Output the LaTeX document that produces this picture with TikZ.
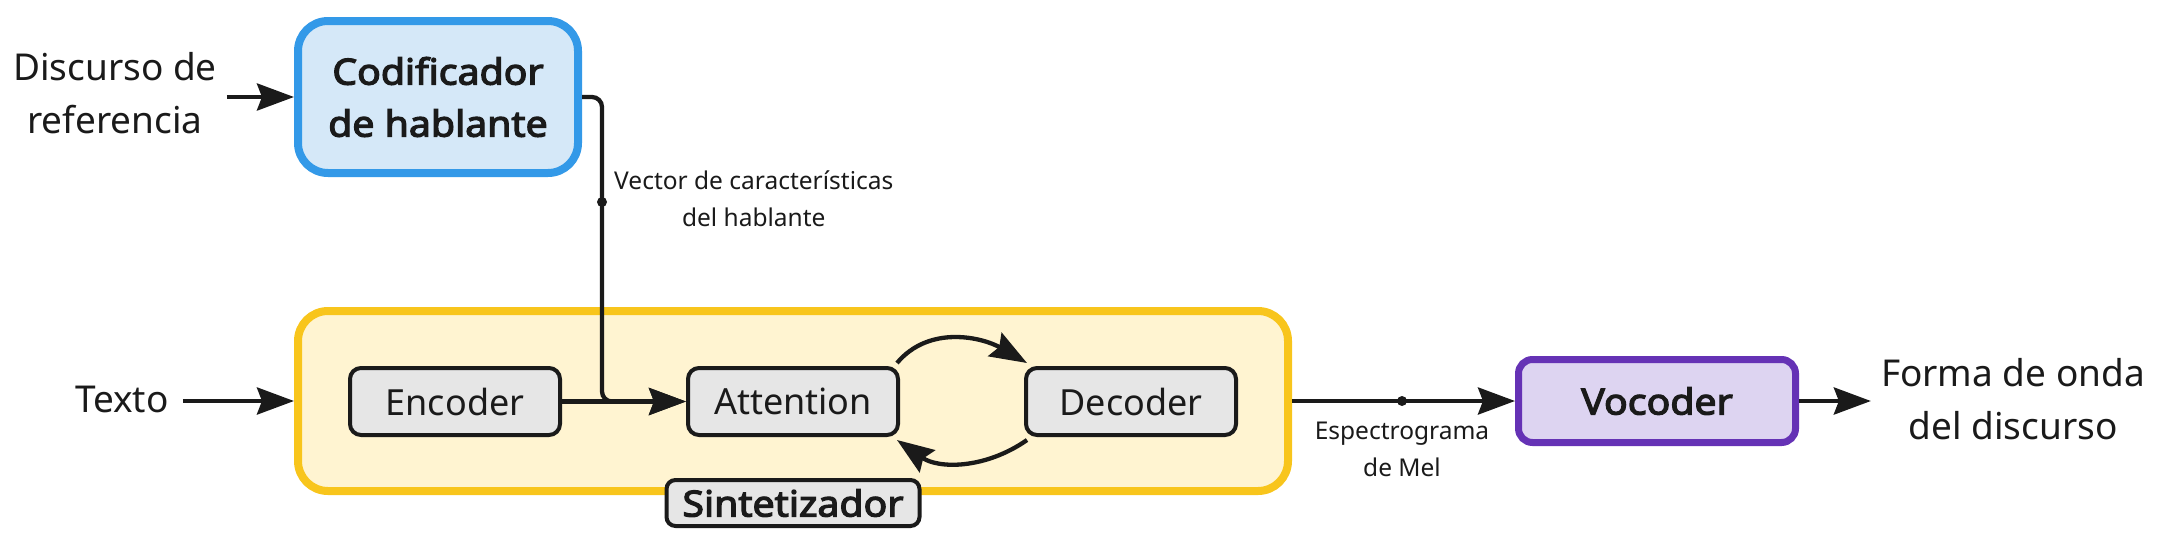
\documentclass[tikz,border=0pt]{standalone}
\usepackage{fontspec}
\setmainfont{Noto Sans}[BoldFont={Noto Sans},BoldFeatures={FakeBold=3.4,FakeStretch=1.09}]
\usetikzlibrary{arrows.meta}
\definecolor{txt}{HTML}{1A1A1A}
\definecolor{blueB}{HTML}{3399E8}
\definecolor{blueF}{HTML}{D5E8F8}
\definecolor{yelB}{HTML}{F8C51C}
\definecolor{yelF}{HTML}{FFF4D1}
\definecolor{grayF}{HTML}{E6E6E6}
\definecolor{purB}{HTML}{6532B5}
\definecolor{purF}{HTML}{DDD4F1}
\tikzset{
  bigtext/.style={font=\fontsize{37}{53}\selectfont, text=txt, align=center, inner sep=0pt},
  smalltext/.style={font=\fontsize{24.5}{37}\selectfont, text=txt, align=center, inner sep=0pt},
  inner/.style={draw=txt, fill=grayF, line width=4pt, rounded corners=11pt, minimum width=210pt, minimum height=67pt, inner sep=0pt, font=\fontsize{36}{44}\selectfont, text=txt},
  conn/.style={draw=txt, line width=4.3pt},
  arr/.style={conn, -{Stealth[length=37pt,width=27pt,inset=5pt]}},
  dot/.style={circle, fill=txt, inner sep=0pt, minimum size=10pt}
}
\begin{document}
\begin{tikzpicture}[x=1pt,y=-1pt]
\useasboundingbox (0,0) rectangle (2166,552);
% speaker encoder
\node[draw=blueB, fill=blueF, line width=8pt, rounded corners=30pt, minimum width=280pt, minimum height=152pt, inner sep=0pt, font=\bfseries\fontsize{36}{52}\selectfont, text=txt, align=center] (cod) at (438,97) {Codificador\\de hablante};
\node[bigtext] (ref) at (115,93) {Discurso de\\referencia};
\draw[arr] ([xshift=10pt]ref.east |- cod.west) -- (cod.west);
% synthesizer
\node[draw=yelB, fill=yelF, line width=8pt, rounded corners=30pt, minimum width=990pt, minimum height=180pt, inner sep=0pt] (syn) at (793,401) {};
\node[inner] (enc) at (455,401.5) {Encoder};
\node[inner] (att) at (793,401.5) {Attention};
\node[inner] (dec) at (1131,401.5) {Decoder};
\node[draw=txt, fill=grayF, line width=4pt, rounded corners=9pt, minimum width=253pt, minimum height=46pt, inner sep=0pt, font=\bfseries\fontsize{36}{44}\selectfont, text=txt] (synlab) at (793,503) {Sintetizador};
\node[bigtext] (texto) at (122,399) {Texto};
\draw[arr] ([xshift=14pt]texto.east |- syn.west) -- (syn.west);
% connectors inside
\coordinate (j) at (602,202);
\draw[arr, rounded corners=10pt] (cod.east) -| (j) |- (att.west);
\node[dot] (jd) at (j) {};
\node[smalltext, anchor=west] (veclab) at (614,199) {Vector de características\\del hablante};
\draw[arr] (enc.east) -- (att.west);
\draw[arr] ([xshift=-3pt,yshift=3pt]att.north east) to[out=50,in=150] ([xshift=3pt,yshift=3pt]dec.north west);
\draw[arr] ([xshift=3pt,yshift=-3pt]dec.south west) to[out=-145,in=-35] ([xshift=-3pt,yshift=-3pt]att.south east);
% vocoder
\node[draw=purB, fill=purF, line width=7pt, rounded corners=14pt, minimum width=277pt, minimum height=83pt, inner sep=0pt, font=\bfseries\fontsize{36}{44}\selectfont, text=txt] (voc) at (1657,401) {Vocoder};
\coordinate (m) at (1402,401);
\draw[arr] (syn.east) -- (voc.west);
\node[dot] (md) at (m) {};
\node[smalltext] (mel) at (1402,449) {Espectrograma\\de Mel};
\node[bigtext] (out) at (2013,399) {Forma de onda\\del discurso};
\draw[arr] (voc.east) -- ([xshift=-10pt]out.west |- voc.east);
\end{tikzpicture}
\end{document}
